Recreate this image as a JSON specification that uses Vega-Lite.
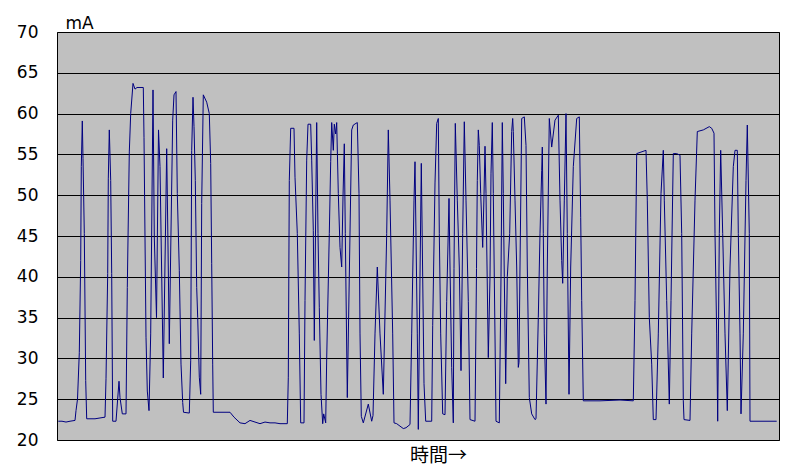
{
  "$schema": "https://vega.github.io/schema/vega-lite/v6.json",
  "width": 722,
  "height": 408,
  "autosize": {"type": "none"},
  "padding": {"left": 57, "top": 32, "right": 14, "bottom": 30},
  "background": "white",
  "config": {
    "view": {"fill": "#C0C0C0", "stroke": "black", "strokeWidth": 1},
    "axis": {"labelFont": "DejaVu Sans", "titleFont": "DejaVu Sans", "labelColor": "black", "titleColor": "black"}
  },
  "data": {
    "values": [
      {"t": 1.3, "mA": 22.3}, {"t": 5, "mA": 22.3}, {"t": 9, "mA": 22.2}, {"t": 13, "mA": 22.3}, {"t": 18, "mA": 22.4},
      {"t": 19, "mA": 23.6}, {"t": 20.5, "mA": 25}, {"t": 22.3, "mA": 30.7}, {"t": 23.7, "mA": 42}, {"t": 24.3, "mA": 53.5},
      {"t": 25.3, "mA": 59.1}, {"t": 26, "mA": 54.5}, {"t": 27.3, "mA": 45.3}, {"t": 28.7, "mA": 27.3}, {"t": 29.7, "mA": 22.6},
      {"t": 38, "mA": 22.6}, {"t": 48, "mA": 22.8}, {"t": 49, "mA": 27.5}, {"t": 50.7, "mA": 40.4}, {"t": 51.3, "mA": 52},
      {"t": 52.3, "mA": 58}, {"t": 53.7, "mA": 51.8}, {"t": 54.7, "mA": 40.4}, {"t": 55.7, "mA": 22.3}, {"t": 59, "mA": 22.3},
      {"t": 62, "mA": 27.2}, {"t": 63, "mA": 25.2}, {"t": 65.3, "mA": 23.2}, {"t": 69, "mA": 23.2}, {"t": 70.3, "mA": 38.7},
      {"t": 72.3, "mA": 55.3}, {"t": 73.7, "mA": 60}, {"t": 76, "mA": 63.7}, {"t": 78, "mA": 63}, {"t": 80, "mA": 63.2},
      {"t": 86.3, "mA": 63.2}, {"t": 87, "mA": 57.1}, {"t": 89, "mA": 32.6}, {"t": 90.3, "mA": 26}, {"t": 92, "mA": 23.6}, {"t": 93.7, "mA": 33},
      {"t": 96, "mA": 62.9}, {"t": 97.3, "mA": 44.9}, {"t": 99.5, "mA": 35}, {"t": 101.5, "mA": 58}, {"t": 103, "mA": 53.5},
      {"t": 106.3, "mA": 27.6}, {"t": 109.7, "mA": 55.7}, {"t": 112.3, "mA": 31.8}, {"t": 115.7, "mA": 59.2}, {"t": 117, "mA": 62.3},
      {"t": 119, "mA": 62.7}, {"t": 120.3, "mA": 50.2}, {"t": 122.3, "mA": 40.8}, {"t": 124, "mA": 29.3}, {"t": 125.7, "mA": 24.6},
      {"t": 126.5, "mA": 23.4}, {"t": 132.3, "mA": 23.3}, {"t": 133.7, "mA": 29.7}, {"t": 134.7, "mA": 55.5}, {"t": 136, "mA": 62},
      {"t": 137, "mA": 58.4}, {"t": 138.3, "mA": 51.8}, {"t": 139.7, "mA": 38.7}, {"t": 140.7, "mA": 35}, {"t": 142.3, "mA": 27.7},
      {"t": 143.7, "mA": 25.6}, {"t": 144.7, "mA": 49}, {"t": 146.3, "mA": 62.3}, {"t": 149.7, "mA": 61.4}, {"t": 152.3, "mA": 60},
      {"t": 153.7, "mA": 53.9}, {"t": 154.7, "mA": 41.6}, {"t": 155.7, "mA": 29.3}, {"t": 156.3, "mA": 23.4}, {"t": 163, "mA": 23.4},
      {"t": 169, "mA": 23.4}, {"t": 173, "mA": 23.4}, {"t": 177, "mA": 22.8}, {"t": 183, "mA": 22.1}, {"t": 188, "mA": 22.0},
      {"t": 193, "mA": 22.4}, {"t": 198, "mA": 22.2}, {"t": 203, "mA": 22.0}, {"t": 208, "mA": 22.2}, {"t": 213, "mA": 22.1},
      {"t": 218, "mA": 22.1}, {"t": 223, "mA": 22.0}, {"t": 230.3, "mA": 22.0}, {"t": 231.3, "mA": 27.7}, {"t": 232.3, "mA": 51.8},
      {"t": 233.7, "mA": 58.2}, {"t": 237, "mA": 58.2}, {"t": 238, "mA": 52.2}, {"t": 240.3, "mA": 45.3}, {"t": 242.3, "mA": 33},
      {"t": 243.7, "mA": 22.1}, {"t": 247, "mA": 22.1}, {"t": 248, "mA": 37.1}, {"t": 249.7, "mA": 54.3}, {"t": 251, "mA": 58.7},
      {"t": 253.7, "mA": 58.7}, {"t": 254.7, "mA": 54.3}, {"t": 256.3, "mA": 45.7}, {"t": 257.3, "mA": 32.2}, {"t": 259.7, "mA": 58.9},
      {"t": 261, "mA": 45.3}, {"t": 262.3, "mA": 36.2}, {"t": 264, "mA": 25.6}, {"t": 265.7, "mA": 22}, {"t": 266.7, "mA": 23.2},
      {"t": 268.7, "mA": 22.1}, {"t": 269.7, "mA": 30}, {"t": 272.3, "mA": 45.3}, {"t": 273.7, "mA": 54.1}, {"t": 274.7, "mA": 58.9},
      {"t": 276.3, "mA": 55.5}, {"t": 277.3, "mA": 58.7}, {"t": 278.7, "mA": 57.5}, {"t": 279.7, "mA": 58.9}, {"t": 281.3, "mA": 50.2},
      {"t": 283, "mA": 43.6}, {"t": 284.7, "mA": 41.2}, {"t": 286, "mA": 49.8}, {"t": 287.3, "mA": 56.3}, {"t": 288.3, "mA": 45.3},
      {"t": 290.3, "mA": 25.2}, {"t": 294.7, "mA": 58}, {"t": 296.3, "mA": 58.6}, {"t": 300.3, "mA": 58.9}, {"t": 302, "mA": 50.2},
      {"t": 303, "mA": 33}, {"t": 304.3, "mA": 22.9}, {"t": 306.3, "mA": 22.1}, {"t": 311.3, "mA": 24.4}, {"t": 314.7, "mA": 22.3},
      {"t": 316, "mA": 23}, {"t": 318, "mA": 33}, {"t": 320.3, "mA": 41.2}, {"t": 323, "mA": 33}, {"t": 326.3, "mA": 25.6},
      {"t": 329.7, "mA": 45.3}, {"t": 331.3, "mA": 58}, {"t": 333, "mA": 49.4}, {"t": 335.7, "mA": 33}, {"t": 337, "mA": 22.1},
      {"t": 339.7, "mA": 22}, {"t": 346.3, "mA": 21.4}, {"t": 349, "mA": 21.5}, {"t": 353, "mA": 21.9}, {"t": 354.7, "mA": 33},
      {"t": 357, "mA": 49.4}, {"t": 358, "mA": 54.1}, {"t": 359, "mA": 45}, {"t": 360.3, "mA": 33}, {"t": 361.3, "mA": 21.3},
      {"t": 363, "mA": 40}, {"t": 364.3, "mA": 53.9}, {"t": 365.7, "mA": 40}, {"t": 367, "mA": 26.9}, {"t": 368.7, "mA": 22.3},
      {"t": 374.7, "mA": 22.3}, {"t": 375.7, "mA": 34}, {"t": 378, "mA": 51.5}, {"t": 379.7, "mA": 58.8}, {"t": 381.3, "mA": 59.4},
      {"t": 382.3, "mA": 45.3}, {"t": 383.7, "mA": 33}, {"t": 385.7, "mA": 23.2}, {"t": 388, "mA": 23.1}, {"t": 389.7, "mA": 37},
      {"t": 392, "mA": 49.6}, {"t": 393, "mA": 41.2}, {"t": 394.7, "mA": 28.9}, {"t": 396.3, "mA": 22.1}, {"t": 397, "mA": 41},
      {"t": 398.3, "mA": 58.8}, {"t": 400.3, "mA": 49.4}, {"t": 402.3, "mA": 41.2}, {"t": 404, "mA": 28.5}, {"t": 405.7, "mA": 45.3},
      {"t": 407.3, "mA": 59}, {"t": 409, "mA": 49.4}, {"t": 411.3, "mA": 37}, {"t": 413, "mA": 22.5}, {"t": 418, "mA": 22.3},
      {"t": 419.5, "mA": 41}, {"t": 420.3, "mA": 51.8}, {"t": 421.3, "mA": 58}, {"t": 422.3, "mA": 56.1}, {"t": 423.7, "mA": 50.2},
      {"t": 425.7, "mA": 43.6}, {"t": 427, "mA": 50}, {"t": 428, "mA": 56}, {"t": 429, "mA": 50.2}, {"t": 431.3, "mA": 30.1},
      {"t": 433, "mA": 40}, {"t": 434, "mA": 52.7}, {"t": 435.3, "mA": 58.9}, {"t": 436.3, "mA": 50.2}, {"t": 439, "mA": 22.3},
      {"t": 442.3, "mA": 22.1}, {"t": 444, "mA": 40}, {"t": 445.3, "mA": 58.9}, {"t": 446.3, "mA": 50.2}, {"t": 447.3, "mA": 40},
      {"t": 448.7, "mA": 26.9}, {"t": 450.3, "mA": 40}, {"t": 452.7, "mA": 45.3}, {"t": 454.7, "mA": 57.8}, {"t": 455.7, "mA": 59.4},
      {"t": 456.3, "mA": 57.8}, {"t": 458, "mA": 49.4}, {"t": 459.7, "mA": 41.2}, {"t": 461.3, "mA": 28.9}, {"t": 462, "mA": 29.5},
      {"t": 463, "mA": 41.2}, {"t": 464.7, "mA": 59.4}, {"t": 467.3, "mA": 59.6}, {"t": 469, "mA": 56.1}, {"t": 470.3, "mA": 41.2},
      {"t": 472.3, "mA": 25.2}, {"t": 474.7, "mA": 23.2},
      {"t": 478, "mA": 22.5}, {"t": 479, "mA": 22.6}, {"t": 481.3, "mA": 35}, {"t": 483, "mA": 45.3}, {"t": 484.7, "mA": 53},
      {"t": 485.3, "mA": 55.9}, {"t": 486.3, "mA": 45.3}, {"t": 487.3, "mA": 33}, {"t": 489, "mA": 24.4}, {"t": 490.3, "mA": 41.2},
      {"t": 492.3, "mA": 59.4}, {"t": 494.7, "mA": 55.9}, {"t": 498, "mA": 59.2}, {"t": 501.3, "mA": 59.8}, {"t": 503, "mA": 49.4},
      {"t": 504.7, "mA": 42}, {"t": 505.7, "mA": 39.2}, {"t": 507.3, "mA": 49.4}, {"t": 509, "mA": 60}, {"t": 510.3, "mA": 45.3},
      {"t": 512, "mA": 25.6}, {"t": 513.7, "mA": 41.2}, {"t": 516.3, "mA": 53.5}, {"t": 519.7, "mA": 59.4}, {"t": 522.3, "mA": 59.6},
      {"t": 523.7, "mA": 47.3}, {"t": 524.7, "mA": 37.1}, {"t": 526.3, "mA": 24.8}, {"t": 543, "mA": 24.8}, {"t": 563, "mA": 24.9},
      {"t": 576.3, "mA": 24.8}, {"t": 578, "mA": 37.1}, {"t": 579.7, "mA": 55.1}, {"t": 589, "mA": 55.5}, {"t": 590.3, "mA": 49.4},
      {"t": 592.3, "mA": 35}, {"t": 594.7, "mA": 29.3}, {"t": 596.3, "mA": 22.5}, {"t": 599, "mA": 22.5}, {"t": 601.3, "mA": 33},
      {"t": 604, "mA": 50.2}, {"t": 606.3, "mA": 55.5}, {"t": 607.3, "mA": 49.4}, {"t": 609.7, "mA": 37.1}, {"t": 612.3, "mA": 24.4},
      {"t": 614, "mA": 37.1}, {"t": 616.3, "mA": 55.1}, {"t": 619.7, "mA": 55.1}, {"t": 623, "mA": 54.9}, {"t": 624.7, "mA": 45.3},
      {"t": 626.3, "mA": 24.8}, {"t": 627, "mA": 22.5}, {"t": 633, "mA": 22.4}, {"t": 634.7, "mA": 33}, {"t": 638, "mA": 49.4},
      {"t": 640.3, "mA": 57.8}, {"t": 646.3, "mA": 58}, {"t": 652.3, "mA": 58.4}, {"t": 654.7, "mA": 58.2}, {"t": 657, "mA": 57.6},
      {"t": 658, "mA": 45.3}, {"t": 659.7, "mA": 33}, {"t": 660.7, "mA": 22.3}, {"t": 662.3, "mA": 45.3}, {"t": 663.7, "mA": 55.5},
      {"t": 665.7, "mA": 45.3}, {"t": 668, "mA": 33}, {"t": 670.3, "mA": 23.6}, {"t": 673, "mA": 41.2}, {"t": 676.3, "mA": 53.5},
      {"t": 678, "mA": 55.5}, {"t": 680.3, "mA": 55.5}, {"t": 681.3, "mA": 45.3}, {"t": 683, "mA": 33}, {"t": 684, "mA": 23.2},
      {"t": 686.3, "mA": 33}, {"t": 689, "mA": 51.8}, {"t": 690.3, "mA": 58.6}, {"t": 692.3, "mA": 45.3}, {"t": 693, "mA": 22.3},
      {"t": 719.7, "mA": 22.3}
    ]
  },
  "mark": {"type": "line", "color": "#000080", "strokeWidth": 1, "interpolate": "linear"},
  "encoding": {
    "x": {
      "field": "t", "type": "quantitative",
      "scale": {"domain": [0, 722], "nice": false, "zero": false},
      "axis": {
        "title": "時間→", "labels": false, "ticks": false, "domain": false, "grid": false,
        "titleFont": "Noto Sans CJK JP", "titleFontSize": 19, "titleFontWeight": "normal",
        "titleX": 381, "titleY": 15, "titleBaseline": "middle", "titleAlign": "center"
      }
    },
    "y": {
      "field": "mA", "type": "quantitative",
      "scale": {"domain": [20, 70], "nice": false, "zero": false},
      "axis": {
        "values": [20, 25, 30, 35, 40, 45, 50, 55, 60, 65, 70],
        "title": "mA", "titleAngle": 0, "titleAlign": "left", "titleBaseline": "alphabetic",
        "titleX": 8, "titleY": -4, "titleFontSize": 17, "titleFontWeight": "normal",
        "labelFontSize": 17, "labelPadding": 19, "ticks": false, "domain": false,
        "grid": true, "gridColor": "black", "gridOpacity": 1, "gridWidth": 1
      }
    }
  }
}
